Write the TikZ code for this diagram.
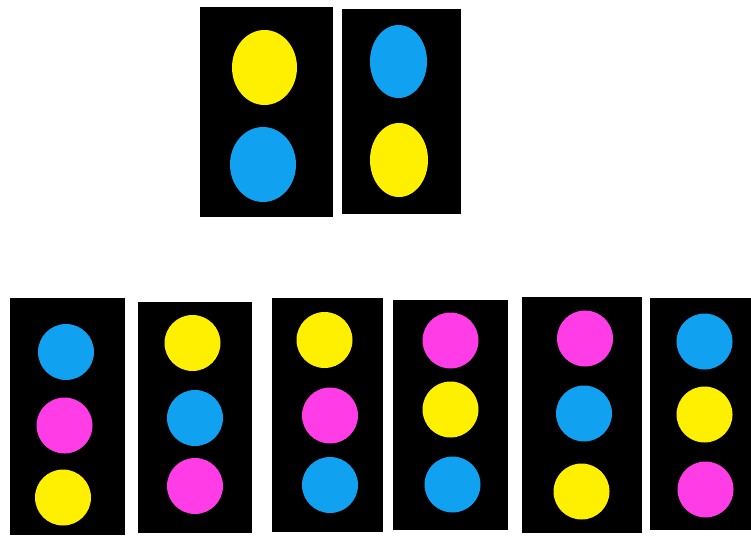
\documentclass[tikz,border=0pt]{standalone}
\usetikzlibrary{shapes.geometric}
\definecolor{dotyellow}{RGB}{255,240,0}
\definecolor{dotblue}{RGB}{16,162,240}
\definecolor{dotmagenta}{RGB}{255,60,230}
\tikzset{
  panel/.style={fill=black},
  dot/.style={circle, inner sep=0pt, minimum size=56pt, draw=none},
  oval/.style={ellipse, inner sep=0pt, draw=none},
  Y/.style={fill=dotyellow},
  B/.style={fill=dotblue},
  M/.style={fill=dotmagenta}
}
\begin{document}
\begin{tikzpicture}[x=1pt,y=-1pt]
\useasboundingbox[fill=white] (0,0) rectangle (751,538);
% top panels
\fill[panel] (200,7) rectangle (333,217);
\fill[panel] (342,9) rectangle (461,214);
\node[oval,Y,minimum width=65pt,minimum height=75pt] (t1a) at (264.5,67.5) {};
\node[oval,B,minimum width=66pt,minimum height=75pt] (t1b) at (263,164.5) {};
\node[oval,B,minimum width=57pt,minimum height=73pt] (t2a) at (398.5,61.5) {};
\node[oval,Y,minimum width=58pt,minimum height=74pt] (t2b) at (399,160) {};
% bottom panels
\fill[panel] (10,298) rectangle (125,535);
\fill[panel] (138,302) rectangle (252,533);
\fill[panel] (272,298) rectangle (383,532);
\fill[panel] (393,300) rectangle (508,530);
\fill[panel] (522,297) rectangle (642,533);
\fill[panel] (650,298) rectangle (751,530);
% panel 1
\node[dot,B] (a1) at (66,352) {};
\node[dot,M] (a2) at (64.5,425.5) {};
\node[dot,Y] (a3) at (63,497.5) {};
% panel 2
\node[dot,Y] (b1) at (192.5,343) {};
\node[dot,B] (b2) at (195,418) {};
\node[dot,M] (b3) at (195,486) {};
% panel 3
\node[dot,Y] (c1) at (324.5,340) {};
\node[dot,M] (c2) at (330,415.5) {};
\node[dot,B] (c3) at (330,485) {};
% panel 4
\node[dot,M] (d1) at (450.5,340.5) {};
\node[dot,Y] (d2) at (450.5,409.5) {};
\node[dot,B] (d3) at (452.5,484.5) {};
% panel 5
\node[dot,M] (e1) at (585,338.5) {};
\node[dot,B] (e2) at (584,413.5) {};
\node[dot,Y] (e3) at (581.5,491.5) {};
% panel 6
\node[dot,B] (f1) at (704.5,341.5) {};
\node[dot,Y] (f2) at (704.5,414.5) {};
\node[dot,M] (f3) at (705.5,489.5) {};
\end{tikzpicture}
\end{document}
